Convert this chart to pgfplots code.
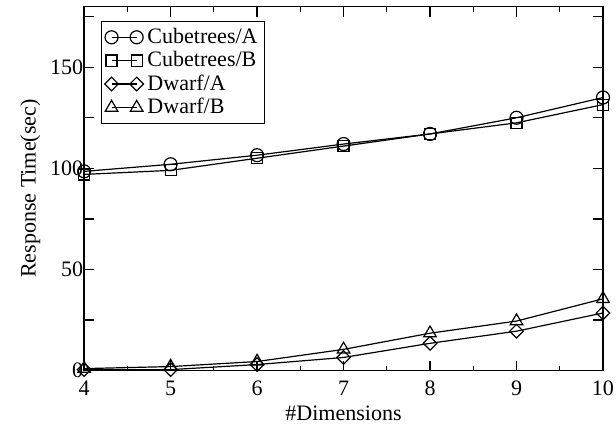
\documentclass[border=0pt]{standalone}
\usepackage{fontspec}
\setmainfont{Liberation Serif}
\usepackage{pgfplots}
\pgfplotsset{compat=1.18}
\begin{document}
\begin{tikzpicture}
\begin{axis}[
  scale only axis,
  width=259pt, height=181.75pt,
  xmin=4, xmax=10, ymin=0, ymax=180,
  xtick={4,5,6,7,8,9,10},
  minor x tick num=1,
  ytick={0,25,50,75,100,125,150,175},
  yticklabels={0,,50,,100,,150,},
  tick align=inside,
  major tick length=5pt,
  minor tick length=2.5pt,
  axis line style={line width=0.7pt},
  every tick/.style={line width=0.6pt,black},
  /pgf/number format/assume math mode=true,
  tick label style={font=\fontsize{11}{11}\selectfont},
  label style={font=\fontsize{11}{11}\selectfont},
  xlabel={\#Dimensions},
  ylabel={Response Time(sec)},
  xlabel style={yshift=1.5pt},
  ylabel style={yshift=-2pt},
  xticklabel style={yshift=-1.5pt},
  yticklabel style={xshift=3pt},
  legend cell align=left,
  legend style={at={(0,1)}, anchor=north west, xshift=8.5pt, yshift=-7pt,
    font=\fontsize{11}{11}\selectfont, inner sep=1.5pt, row sep=-1.5pt,
    draw=black, line width=0.6pt},
  legend image code/.code={\draw[#1] plot coordinates {(0cm,0cm) (0.44cm,0cm)};},
  every axis plot/.append style={black, line width=0.6pt, mark options={solid, fill=white, line width=0.6pt}},
]
\addplot[mark=o, mark size=3.25pt] coordinates {(4,98.5) (5,102) (6,106.5) (7,112) (8,117) (9,125) (10,135)};
\addlegendentry{Cubetrees/A}
\addplot[mark=square, mark size=2.75pt] coordinates {(4,97) (5,99) (6,105) (7,111) (8,117) (9,122.5) (10,131.5)};
\addlegendentry{Cubetrees/B}
\addplot[mark=square, mark size=2.4pt, mark options={rotate=45}] coordinates {(4,0.5) (5,0.5) (6,3) (7,6.5) (8,13.5) (9,19.5) (10,28.5)};
\addlegendentry{Dwarf/A}
\addplot[mark=triangle, mark size=3.6pt] coordinates {(4,1) (5,2) (6,4.5) (7,10.5) (8,18.5) (9,24.5) (10,35.5)};
\addlegendentry{Dwarf/B}
\end{axis}
\pgfresetboundingbox
\path[use as bounding box] ([xshift=-42pt,yshift=-27.5pt]current axis.south west) rectangle ([xshift=6.5pt,yshift=3.25pt]current axis.north east);
\end{tikzpicture}
\end{document}
